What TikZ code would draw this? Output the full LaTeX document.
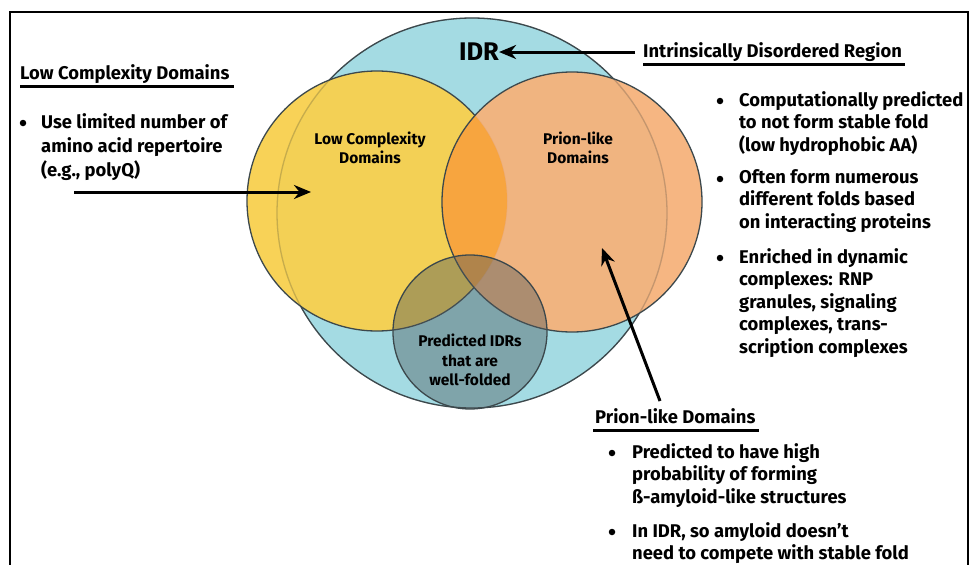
\documentclass[tikz,border=0pt]{standalone}
\usepackage{fontspec}
\setmainfont{Fira Sans}
\usetikzlibrary{calc,arrows.meta}

\definecolor{idrblue}{HTML}{A4DBE3}
\definecolor{lcdyellow}{HTML}{F8D04E}
\definecolor{pldorange}{HTML}{F5B27B}
\definecolor{bothorange}{HTML}{F8A43B}
\definecolor{foldgray}{HTML}{4E585C}
\definecolor{edgegray}{HTML}{3C484C}

\begin{document}
\begin{tikzpicture}[x=1pt, y=-1pt,
    venn/.style={draw=edgegray, line width=1.3pt},
    head/.style={font=\fontsize{18.4}{22}\selectfont\bfseries, inner sep=0pt, anchor=west},
    item/.style={font=\fontsize{18.4}{22.5}\selectfont\bfseries, inner sep=0pt, anchor=north west, align=left},
    inlabel/.style={font=\fontsize{15.5}{19.3}\selectfont\bfseries, align=center, inner sep=0pt},
    dot/.style={circle, fill=black, inner sep=0pt, minimum size=6.5pt},
    rule/.style={line width=2.4pt},
    pointer/.style={line width=3pt, -{Stealth[length=17pt, width=14pt]}}]
    \useasboundingbox (0,0) rectangle (970,565);

    % Draw the frame (open at the bottom)
    \draw[line width=1.6pt] (10,570) -- (10,12) -- (968,12) -- (968,570);

    % Draw the IDR circle
    \fill[idrblue] (472,213) circle[radius=195pt];
    \draw[venn] (472,213) circle[radius=195pt];

    % Draw the low complexity circle
    \fill[lcdyellow, opacity=0.95] (377,201) circle[radius=130pt];
    \draw[venn] (377,201) circle[radius=130pt];

    % Draw the prion-like circle and the overlap
    \fill[pldorange, opacity=0.95] (572,202) circle[radius=130pt];
    \begin{scope}
        \clip (377,201) circle[radius=130pt];
        \fill[bothorange, opacity=0.93] (572,202) circle[radius=130pt];
    \end{scope}
    % IDR edge still showing through the two domains
    \draw[venn, opacity=0.22] (472,213) circle[radius=195pt];
    \draw[venn] (572,202) circle[radius=130pt];

    % Draw the well-folded circle on top
    \fill[foldgray, opacity=0.42] (470,332) circle[radius=77pt];
    \draw[venn] (470,332) circle[radius=77pt];

    % Labels inside the circles
    \node[font=\fontsize{25.5}{28}\selectfont\bfseries, inner sep=0pt] (IDR) at (479,52) {IDR};
    \node[inlabel] (LCD) at (370,148) {Low Complexity\\Domains};
    \node[inlabel] (PLD) at (578,148) {Prion-like\\Domains};
    \node[inlabel] (WF) at (470,360) {Predicted IDRs\\that are\\well-folded};

    % Intrinsically disordered region
    \node[head] (idrhead) at (643,52) {Intrinsically Disordered Region};
    \draw[rule] ($(idrhead.base west)+(0,7)$) -- ($(idrhead.base east)+(3,7)$);
    \draw[pointer] (idrhead.west) ++(-8,0) -- (IDR.east);
    \node[item] (r1) at (739,91) {Computationally predicted\\to not form stable fold\\(low hydrophobic AA)};
    \node[item] (r2) at (739,169) {Often form numerous\\different folds based\\on interacting proteins};
    \node[item] (r3) at (739,248) {Enriched in dynamic\\complexes: RNP\\granules, signaling\\complexes, trans-\\scription complexes};
    \foreach \n in {r1,r2,r3}
        \node[dot] at ($(\n.north west)+(-19,10)$) {};

    % Low complexity domains
    \node[head] (lcdhead) at (20,74) {Low Complexity Domains};
    \draw[rule] ($(lcdhead.base west)+(0,7)$) -- ($(lcdhead.base east)+(4,7)$);
    \node[item, font=\fontsize{18.4}{24}\selectfont\bfseries] (l1) at (41,113) {Use limited number of\\amino acid repertoire\\(e.g., polyQ)};
    \node[dot] at ($(l1.north west)+(-18,10)$) {};
    \coordinate (A) at (74,192);
    \coordinate (B) at (311,192);
    \draw[pointer] (A) -- (B);

    % Prion-like domains
    \node[head] (pldhead) at (595,416) {Prion-like Domains};
    \draw[rule] ($(pldhead.base west)+(-2,7)$) -- ($(pldhead.base east)+(3,7)$);
    \node[item] (p1) at (632,443) {Predicted to have high\\probability of forming\\ß-amyloid-like structures};
    \node[item] (p2) at (632,522) {In IDR, so amyloid doesn’t\\need to compete with stable fold};
    \foreach \n in {p1,p2}
        \node[dot] at ($(\n.north west)+(-20,10)$) {};
    \coordinate (C) at (660,401);
    \coordinate (D) at (602,248);
    \draw[pointer] (C) -- (D);
\end{tikzpicture}
\end{document}
